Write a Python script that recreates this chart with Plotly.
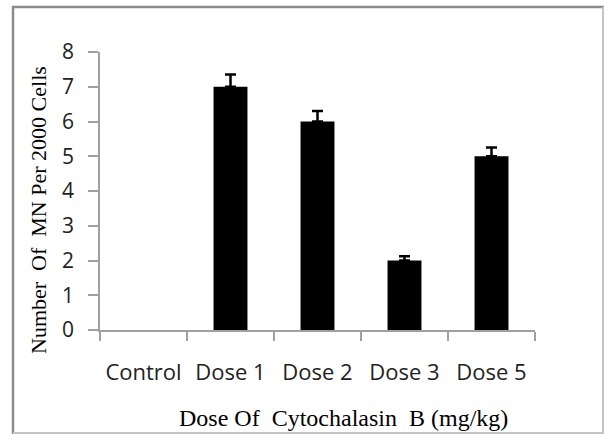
import plotly.graph_objects as go

categories = ["Control", "Dose 1", "Dose 2", "Dose 3", "Dose 5"]
values = [None, 7, 6, 2, 5]
errors_plus = [None, 0.35, 0.3, 0.12, 0.25]
errors_minus = [None, 0, 0, 0, 0]
y_ticks = [0, 1, 2, 3, 4, 5, 6, 7, 8]
x_title = "Dose Of  Cytochalasin  B (mg/kg)"
y_title = "Number  Of  MN Per 2000 Cells"

fig = go.Figure()
fig.add_trace(go.Bar(
    x=categories, y=values,
    width=0.39,
    marker=dict(color="black", line=dict(width=0)),
    error_y=dict(type="data", symmetric=False, array=errors_plus, arrayminus=errors_minus,
                 color="black", thickness=2.5, width=5.5),
))

W, H = 604, 434
l, r, t, b = 100, 69, 52, 104
pw, ph = W - l - r, H - t - b
def px(x): return (x - l) / pw
def py(y): return (H - b - y) / ph

fig.update_layout(
    width=W, height=H,
    margin=dict(l=l, r=r, t=t, b=b),
    paper_bgcolor="white", plot_bgcolor="white",
    showlegend=False,
    xaxis=dict(
        type="category", range=[-0.5, 4.5],
        showline=True, linecolor="#a0a0a0", linewidth=1.5,
        ticks="outside", tickson="boundaries", ticklen=9, tickcolor="#a0a0a0", tickwidth=1.5,
        showgrid=False, zeroline=False, ticklabelstandoff=22,
        tickfont=dict(family="Open Sans", size=22, color="#222222"),
    ),
    yaxis=dict(
        range=[0, 8], tickvals=y_ticks,
        showline=True, linecolor="#a0a0a0", linewidth=1.5,
        ticks="outside", ticklen=10, tickcolor="#a0a0a0", tickwidth=1.5,
        showgrid=False, zeroline=False, ticklabelstandoff=10,
        tickfont=dict(family="Open Sans", size=21, color="#222222"),
    ),
    annotations=[
        dict(text=x_title, xref="paper", yref="paper", x=px(343), y=py(418),
             xanchor="center", yanchor="middle", showarrow=False,
             font=dict(family="Liberation Serif", size=24, color="black")),
        dict(text=y_title, xref="paper", yref="paper", x=px(38), y=py(210),
             xanchor="center", yanchor="middle", showarrow=False, textangle=-90,
             font=dict(family="Liberation Serif", size=22, color="black")),
    ],
)

# outer frame
fig.add_shape(type="line", xref="paper", yref="paper", x0=px(13), x1=px(13), y0=py(6), y1=py(434),
              line=dict(color="#8c8c8c", width=2.5))
fig.add_shape(type="line", xref="paper", yref="paper", x0=px(12), x1=px(604), y0=py(7), y1=py(7),
              line=dict(color="#8c8c8c", width=2.5))
fig.add_shape(type="line", xref="paper", yref="paper", x0=px(603), x1=px(603), y0=py(7), y1=py(434),
              line=dict(color="#c4c4c4", width=2))
fig.add_shape(type="line", xref="paper", yref="paper", x0=px(13), x1=px(604), y0=py(433), y1=py(433),
              line=dict(color="#c4c4c4", width=2))

fig.write_html("out.html", config={"displayModeBar": False},
               post_script="document.body.style.margin='0';document.body.style.overflow='hidden';")
